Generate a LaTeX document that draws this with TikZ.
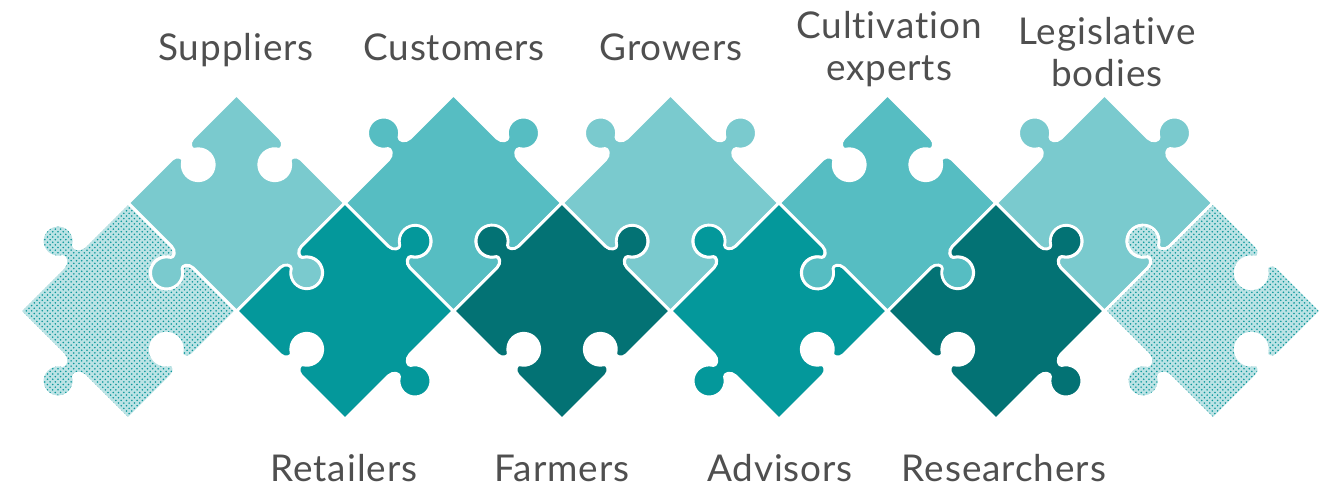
\documentclass[tikz,border=0pt]{standalone}
\usepackage{fontspec}
\setmainfont{Lato}[LetterSpace=2.5, Ligatures=NoCommon]
\usetikzlibrary{patterns}

\definecolor{palet}{HTML}{7ACACE}
\definecolor{midt}{HTML}{56BDC2}
\definecolor{deept}{HTML}{04989B}
\definecolor{darkt}{HTML}{037274}
\definecolor{dott}{HTML}{0A979B}
\definecolor{dotback}{HTML}{BCE3E5}
\definecolor{textgray}{HTML}{4F4F4F}

% one side of a piece, on the top edge of the square; #1 = 1 for a tab, -1 for a hole
\newcommand\knob[1]{%
  -- (-15,-76.5) .. controls (-8.5,-76.5) and (-5.2,{-76.5-(#1)*6.8}) .. (-8,{-76.5-(#1)*8.5})
  arc[start angle={180-(#1)*60}, end angle={180+(#1)*240}, radius=16]
  .. controls (5.2,{-76.5-(#1)*6.8}) and (8.5,-76.5) .. (15,-76.5) -- (76.5,-76.5)}

% sides in the order NE, SE, SW, NW
\newcommand\piecepath[4]{%
  (-76.5,-76.5) {\knob{#1}} {[rotate=-90] \knob{#2}}
  {[rotate=-180] \knob{#3}} {[rotate=-270] \knob{#4}} -- cycle}

\begin{document}
\begin{tikzpicture}[x=0.02cm, y=-0.02cm,
    piece/.style={draw=white, line width=1.6pt, line join=round},
    dotted piece/.style={piece, preaction={fill=dotback}, pattern=crosshatch dots, pattern color=dott},
    stakeholder/.style={text=textgray, font=\fontsize{21}{24}\selectfont, align=center}]

    \path[use as bounding box, fill=white] (0,0) rectangle (1320,490);

    % Declare the pieces
    \path[dotted piece, shift={(128,311)}, rotate=-45] \piecepath{-1}{-1}{1}{1};
    \path[piece, fill=palet, shift={(236.5,203)}, rotate=-45] \piecepath{-1}{1}{1}{-1};
    \path[piece, fill=deept, shift={(345,311)}, rotate=-45] \piecepath{1}{1}{-1}{-1};
    \path[piece, fill=midt, shift={(453.5,203)}, rotate=-45] \piecepath{1}{-1}{-1}{1};
    \path[piece, fill=darkt, shift={(562,311)}, rotate=-45] \piecepath{1}{-1}{-1}{1};
    \path[piece, fill=palet, shift={(670.5,203)}, rotate=-45] \piecepath{1}{-1}{-1}{1};
    \path[piece, fill=deept, shift={(779,311)}, rotate=-45] \piecepath{-1}{-1}{1}{1};
    \path[piece, fill=midt, shift={(887.5,203)}, rotate=-45] \piecepath{-1}{1}{1}{-1};
    \path[piece, fill=darkt, shift={(996,311)}, rotate=-45] \piecepath{1}{1}{-1}{-1};
    \path[piece, fill=palet, shift={(1104.5,203)}, rotate=-45] \piecepath{1}{-1}{-1}{1};
    \path[dotted piece, shift={(1213,311)}, rotate=-45] \piecepath{-1}{-1}{1}{1};

    % Declare the labels above
    \node[stakeholder, anchor=base] (suppliers) at (236,60) {Suppliers};
    \node[stakeholder, anchor=base] (customers) at (454,60) {Customers};
    \node[stakeholder, anchor=base] (growers) at (671,60) {Growers};
    \node[stakeholder] (cultivation) at (889,49) {Cultivation\\experts};
    \node[stakeholder] (legislative) at (1107,52) {Legislative\\bodies};

    % Declare the labels below
    \node[stakeholder, anchor=base] (retailers) at (344,481) {Retailers};
    \node[stakeholder, anchor=base] (farmers) at (562,481) {Farmers};
    \node[stakeholder, anchor=base] (advisors) at (780,481) {Advisors};
    \node[stakeholder, anchor=base] (researchers) at (1004,481) {Researchers};

\end{tikzpicture}
\end{document}
